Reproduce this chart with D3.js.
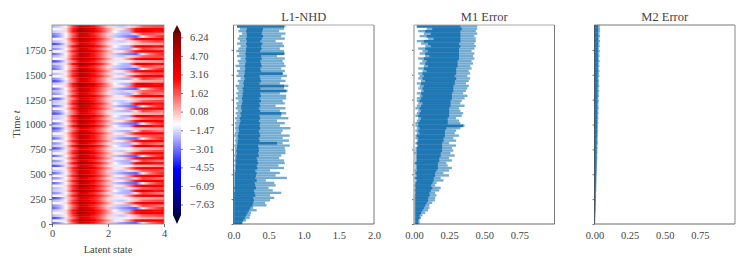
<!DOCTYPE html>
<html>
<head>
<meta charset="utf-8">
<script src="https://cdn.jsdelivr.net/npm/d3@7"></script>
<style>
  html, body { margin: 0; background: #fff; }
  text { font-family: "Liberation Serif", serif; fill: #444; }
</style>
</head>
<body>
<svg id="chart" width="747" height="267"></svg>
<script>
// latent grid of the heat map and the stripe types seen along it
var latentGrid = [0, .25, .5, .75, 1, 1.25, 1.5, 1.75, 2, 2.25, 2.5, 2.75, 3, 3.25, 3.5, 3.75, 4];
var profileR = [-0.8, -1.1, -0.4, 2.4, 5.0, 4.4, 3.2, 2.0, 0.6, -0.6, -0.5, 0.8, 2.6, 3.2, 3.0, 2.9, 2.9];
var profileC = [-3.4, -2.4, -1.0, 1.6, 4.4, 3.8, 2.6, 1.4, 0.0, -1.8, -2.4, -2.9, -3.4, -0.8, 1.0, 1.8, 2.4];
var profileM = [-2.0, -1.7, -0.7, 2.0, 4.4, 3.8, 2.6, 1.4, -0.1, -1.5, -1.8, -1.4, 0.2, 1.4, 1.6, 1.8, 1.8];
var profileP = [-2.8, -2.2, -1.0, 1.4, 4.0, 3.4, 2.3, 1.1, -0.3, -1.6, -2.0, -2.2, -0.4, 1.9, 1.6, 1.2, 1.0];
var profileD = [-1.8, -1.5, -0.4, 2.6, 5.4, 4.9, 3.6, 2.2, 0.6, -1.0, -1.9, -2.2, 2.8, 3.8, 3.0, 2.6, 2.8];
var profileS = [-3.8, -3.0, -1.3, 1.2, 3.8, 3.2, 2.4, 1.2, -0.3, -1.3, -1.2, -0.7, 0.0, 0.2, 0.3, 0.5, 0.6];
var profiles = { R: profileR, C: profileC, M: profileM, P: profileP, D: profileD, S: profileS };
// one entry per row, t = 0 first
var heatRows = [
  "C","R","S","M","R","D","C","P","R","M",
  "S","R","P","D","M","R","C","R","P","R",
  "C","M","R","S","D","P","R","C","R","M",
  "S","D","P","R","C","M","R","P","S","D",
  "C","R","M","D","S","P","R","C","D","M",
  "S","R","P","M","C","R","D","S","P","R",
  "M","R","C","P","D","S","R","M","C","R",
  "P","D","S","M","R","C","P","D","R","M"
];

var colorbarTicks = [6.24, 4.70, 3.16, 1.62, 0.08, -1.47, -3.01, -4.55, -6.09, -7.63];
var timeTicks = [0, 250, 500, 750, 1000, 1250, 1500, 1750];
var rowStep = 25;

var l1Hi = [
  .13,.18,.23,.24,.25,.33,.28,.47,.45,.52,
  .58,.52,.68,.56,.50,.60,.58,.46,.76,.60,
  .66,.52,.72,.64,.73,.72,.65,.68,.74,.74,
  .73,.80,.70,.79,.70,.80,.68,.70,.81,.66,
  .73,.62,.78,.68,.75,.66,.74,.60,.73,.70,
  .75,.75,.66,.77,.72,.78,.66,.74,.68,.76,
  .70,.73,.68,.74,.72,.70,.73,.62,.73,.72,
  .66,.72,.70,.60,.73,.68,.74,.65,.72,.74];
var l1CoreHi = [
  .12,.14,.16,.18,.20,.22,.24,.27,.28,.29,
  .28,.31,.30,.29,.32,.31,.30,.33,.31,.32,
  .33,.31,.34,.33,.35,.34,.33,.36,.35,.36,
  .36,.35,.62,.37,.36,.38,.37,.36,.38,.37,
  .38,.36,.38,.37,.68,.38,.36,.38,.37,.39,
  .37,.39,.38,.75,.38,.72,.37,.39,.38,.37,
  .70,.39,.38,.40,.39,.38,.40,.39,.72,.38,
  .40,.39,.41,.38,.40,.42,.40,.41,.42,.72];
var l1Lo = [
  .01,.01,.01,.01,.01,.01,.01,.01,.01,.01,
  .01,.01,.01,.01,.01,.01,.01,.01,.01,.01,
  .01,.01,.02,.01,.02,.01,.02,.01,.02,.02,
  .02,.01,.03,.02,.03,.01,.02,.03,.02,.03,
  .02,.04,.02,.05,.03,.06,.03,.05,.04,.07,
  .03,.06,.04,.07,.05,.03,.08,.06,.10,.04,
  .07,.05,.09,.03,.08,.06,.10,.05,.08,.04,
  .07,.10,.05,.09,.06,.08,.12,.07,.09,.05];
var l1CoreLo = [
  .01,.01,.01,.01,.01,.01,.01,.01,.01,.01,
  .01,.01,.01,.02,.01,.02,.02,.02,.02,.02,
  .02,.03,.03,.03,.04,.03,.04,.04,.05,.04,
  .05,.05,.06,.06,.07,.06,.07,.08,.07,.08,
  .09,.10,.09,.11,.10,.12,.11,.11,.12,.13,
  .12,.13,.13,.14,.13,.15,.14,.15,.16,.15,
  .16,.16,.17,.16,.17,.18,.17,.18,.17,.18,
  .18,.19,.18,.19,.18,.19,.19,.18,.19,.05];

var m1Hi = [
  .04,.04,.05,.06,.08,.10,.11,.11,.13,.15,
  .15,.16,.15,.18,.19,.15,.16,.21,.19,.25,
  .21,.25,.27,.24,.23,.27,.25,.29,.26,.28,
  .27,.30,.25,.30,.28,.32,.29,.30,.33,.36,
  .33,.32,.30,.34,.35,.33,.32,.36,.33,.34,
  .36,.38,.35,.37,.38,.39,.37,.39,.40,.38,
  .40,.39,.41,.40,.42,.41,.43,.42,.43,.41,
  .43,.44,.43,.44,.44,.43,.45,.44,.45,.45];
var m1CoreHi = [
  .03,.03,.04,.04,.05,.06,.07,.08,.09,.10,
  .10,.11,.11,.12,.13,.12,.13,.14,.14,.15,
  .15,.16,.17,.17,.17,.18,.18,.19,.19,.20,
  .20,.20,.20,.21,.21,.22,.22,.22,.23,.35,
  .24,.24,.24,.25,.25,.25,.25,.26,.26,.26,
  .27,.27,.27,.28,.28,.28,.29,.29,.30,.29,
  .30,.30,.30,.31,.31,.31,.32,.32,.32,.32,
  .32,.33,.32,.33,.33,.33,.33,.33,.34,.33];
var m1Lo = [
  0,0,0,0,0,0,0,0,0,0,
  0,0,.01,0,.01,0,.01,.01,0,.01,
  .01,0,.01,.01,0,.01,.01,.01,0,.01,
  .01,.02,.01,.02,.01,.01,.02,.01,.02,.01,
  .01,.02,.03,.01,.02,.03,.01,.02,.03,.02,
  .02,.04,.02,.05,.03,.04,.02,.05,.03,.04,
  .03,.06,.03,.07,.04,.06,.03,.08,.04,.06,
  .03,.08,.05,.02,.10,.04,.07,.03,.09,.02];
var m1CoreLo = [
  .01,.01,.01,.01,.01,.01,.01,.01,.01,.01,
  .01,.01,.01,.01,.01,.01,.01,.02,.01,.02,
  .01,.02,.02,.02,.01,.02,.02,.02,.02,.02,
  .02,.03,.02,.03,.03,.02,.04,.03,.04,.03,
  .03,.04,.05,.03,.04,.05,.04,.05,.06,.04,
  .05,.06,.05,.07,.06,.07,.05,.08,.06,.07,
  .06,.09,.07,.10,.08,.09,.07,.11,.08,.10,
  .08,.12,.10,.07,.14,.09,.12,.08,.13,.02];

var m2Hi = [
  .004,.005,.005,.006,.007,.008,.008,.009,.010,.010,
  .011,.012,.011,.013,.013,.014,.014,.015,.015,.016,
  .016,.018,.017,.018,.019,.019,.020,.019,.021,.021,
  .022,.021,.024,.023,.022,.025,.024,.026,.024,.025,
  .027,.025,.028,.026,.029,.027,.030,.028,.029,.031,
  .028,.032,.030,.033,.029,.034,.031,.033,.030,.035,
  .032,.036,.031,.035,.033,.037,.032,.036,.034,.038,
  .033,.037,.035,.039,.034,.040,.036,.038,.040,.037];
var m2Core = [
  .003,.004,.004,.005,.005,.006,.006,.007,.007,.008,
  .008,.008,.008,.009,.009,.010,.010,.011,.011,.011,
  .012,.012,.012,.013,.013,.013,.014,.014,.015,.015,
  .015,.015,.016,.016,.016,.017,.017,.018,.017,.018,
  .018,.018,.019,.019,.020,.019,.020,.020,.020,.021,
  .020,.022,.021,.022,.021,.023,.022,.023,.022,.023,
  .023,.024,.023,.024,.023,.025,.024,.025,.024,.025,
  .024,.025,.025,.026,.025,.026,.025,.026,.026,.026];
var m2Lo = m2Hi.map(function () { return 0; });

var svg = d3.select("#chart");
var defs = svg.append("defs");
var plotTop = 25, plotBottom = 224;

// same colours as matplotlib's seismic
var seismic = d3.scaleLinear()
  .domain([0, .25, .5, .75, 1])
  .range(["#00004d", "#0000ff", "#ffffff", "#ff0000", "#800000"])
  .clamp(true);
var heatColor = d3.scaleLinear().domain([-8.5, 6.6]).range([0, 1]);
function colorOf(v) { return seismic(heatColor(v)); }

var yTime = d3.scaleLinear().domain([0, 2000]).range([plotBottom, plotTop]);

function styleAxis(g) {
  g.selectAll("text").attr("font-size", 10.5).attr("fill", "#444");
  g.selectAll("line").attr("stroke", "#333").attr("stroke-width", .7);
  g.select(".domain").remove();
}

// ---- heat map
var xLatent = d3.scaleLinear().domain([0, 4]).range([52, 164]);
heatRows.forEach(function (key, i) {
  var grad = defs.append("linearGradient").attr("id", "row" + i);
  profiles[key].forEach(function (v, j) {
    grad.append("stop")
      .attr("offset", latentGrid[j] / 4)
      .attr("stop-color", colorOf(v));
  });
});
defs.append("filter").attr("id", "soften")
  .append("feGaussianBlur").attr("stdDeviation", "0 0.45");
defs.append("clipPath").attr("id", "heatClip").append("rect")
  .attr("x", 52).attr("y", plotTop).attr("width", 112).attr("height", plotBottom - plotTop);
svg.append("g").attr("clip-path", "url(#heatClip)")
  .append("g").attr("filter", "url(#soften)")
  .selectAll("rect").data(heatRows).enter()
  .append("rect")
  .attr("x", xLatent(0))
  .attr("width", xLatent(4) - xLatent(0))
  .attr("y", function (d, i) { return yTime((i + 1) * rowStep); })
  .attr("height", yTime(0) - yTime(rowStep) + .3)
  .attr("fill", function (d, i) { return "url(#row" + i + ")"; });
svg.append("rect")
  .attr("x", 52).attr("y", plotTop).attr("width", 112).attr("height", plotBottom - plotTop)
  .attr("fill", "none").attr("stroke", "#888").attr("stroke-width", .8);

svg.append("g").attr("transform", "translate(0," + plotBottom + ")")
  .call(d3.axisBottom(xLatent).tickValues([0, 2, 4]).tickFormat(d3.format("d")).tickSize(3).tickPadding(3))
  .call(styleAxis);
svg.append("g").attr("transform", "translate(52,0)")
  .call(d3.axisLeft(yTime).tickValues(timeTicks).tickFormat(d3.format("d")).tickSize(3).tickPadding(3))
  .call(styleAxis);
svg.append("text").attr("x", 108).attr("y", 253).attr("text-anchor", "middle")
  .attr("font-size", 10.5).text("Latent state");
var yLabel = svg.append("text")
  .attr("transform", "translate(20,124) rotate(-90)")
  .attr("text-anchor", "middle").attr("font-size", 10.5);
yLabel.append("tspan").text("Time ");
yLabel.append("tspan").attr("font-style", "italic").text("t");

// ---- colour bar
var yBar = d3.scaleLinear().domain([-8.5, 6.6]).range([215, 33]);
var barGrad = defs.append("linearGradient").attr("id", "barGrad")
  .attr("x1", 0).attr("x2", 0).attr("y1", 1).attr("y2", 0);
[0, .25, .5, .75, 1].forEach(function (s) {
  barGrad.append("stop").attr("offset", s).attr("stop-color", seismic(s));
});
svg.append("rect").attr("x", 173).attr("width", 8)
  .attr("y", yBar(6.6)).attr("height", yBar(-8.5) - yBar(6.6))
  .attr("fill", "url(#barGrad)");
svg.append("path").attr("d", d3.line()([[173, 33], [177, 25], [181, 33]]) + "Z").attr("fill", "#5e0000");
svg.append("path").attr("d", d3.line()([[173, 215], [177, 224], [181, 215]]) + "Z").attr("fill", "#00002c");
svg.append("g").attr("transform", "translate(181,0)")
  .call(d3.axisRight(yBar).tickValues(colorbarTicks)
    .tickFormat(function (d) { return d3.format(".2f")(d).replace("-", "\u2212"); })
    .tickSize(2).tickPadding(7))
  .call(styleAxis);

// ---- range panels
function drawPanel(opt) {
  var x = d3.scaleLinear().domain(opt.domain).range([opt.x0, opt.x0 + 140.5]);
  var g = svg.append("g");
  var h = yTime(0) - yTime(rowStep);

  g.append("g").selectAll("rect").data(opt.hi).enter().append("rect")
    .attr("x", function (d, i) { return x(opt.lo[i]); })
    .attr("width", function (d, i) { return x(d) - x(opt.lo[i]); })
    .attr("y", function (d, i) { return yTime((i + 1) * rowStep); })
    .attr("height", h * .95)
    .attr("fill", "#1f77b4").attr("fill-opacity", .62);
  g.append("g").selectAll("rect").data(opt.coreHi).enter().append("rect")
    .attr("x", function (d, i) { return x(opt.coreLo[i]); })
    .attr("width", function (d, i) { return x(d) - x(opt.coreLo[i]); })
    .attr("y", function (d, i) { return yTime((i + 1) * rowStep); })
    .attr("height", h + .2)
    .attr("fill", "#1f77b4");

  svg.append("g").attr("transform", "translate(0," + plotBottom + ")")
    .call(d3.axisBottom(x).tickValues(opt.ticks).tickFormat(d3.format(opt.fmt)).tickSize(0).tickPadding(8))
    .call(styleAxis);
  svg.append("g").attr("transform", "translate(" + opt.x0 + ",0)")
    .call(d3.axisLeft(yTime).tickValues(timeTicks).tickFormat("").tickSize(2))
    .call(styleAxis);

  // spines, the lighter sides are the way they look in the reference
  var left = opt.x0, right = opt.x0 + 140.5;
  function spine(x1, y1, x2, y2, c, w) {
    svg.append("line").attr("x1", x1).attr("y1", y1).attr("x2", x2).attr("y2", y2)
      .attr("stroke", c).attr("stroke-width", w);
  }
  spine(left, plotTop, right, plotTop, opt.spines[0], 1);
  spine(right, plotTop, right, plotBottom, opt.spines[1], opt.spines[1] == "#aaa" ? 1.4 : .8);
  spine(left, plotBottom, right, plotBottom, "#444", .8);
  spine(left, plotTop, left, plotBottom, opt.spines[2], opt.spines[2] == "#aaa" ? 1.4 : .8);

  svg.append("text").attr("x", (left + right) / 2).attr("y", 21)
    .attr("text-anchor", "middle").attr("font-size", 12.5).text(opt.title);
}

drawPanel({ title: "L1-NHD", x0: 233.5, domain: [0, 2], ticks: [0, .5, 1, 1.5, 2], fmt: ".1f",
  lo: l1Lo, hi: l1Hi, coreLo: l1CoreLo, coreHi: l1CoreHi, spines: ["#aaa", "#555", "#444"] });
drawPanel({ title: "M1 Error", x0: 414, domain: [0, 1], ticks: [0, .25, .5, .75], fmt: ".2f",
  lo: m1Lo, hi: m1Hi, coreLo: m1CoreLo, coreHi: m1CoreHi, spines: ["#aaa", "#555", "#aaa"] });
drawPanel({ title: "M2 Error", x0: 594.5, domain: [0, 1], ticks: [0, .25, .5, .75], fmt: ".2f",
  lo: m2Lo, hi: m2Hi, coreLo: m2Lo, coreHi: m2Core, spines: ["#777", "#aaa", "#444"] });
</script>
</body>
</html>
